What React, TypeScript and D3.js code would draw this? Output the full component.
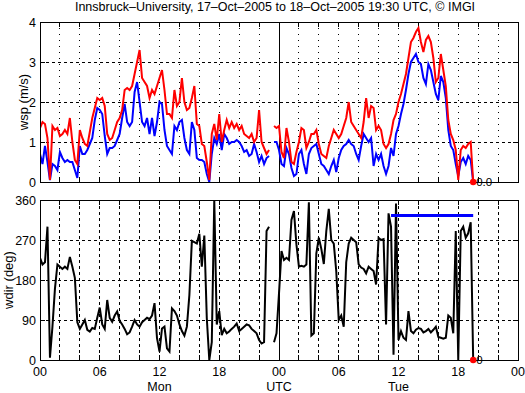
import React from 'react';
import * as d3 from 'd3';

const TITLE = 'Innsbruck–University, 17–Oct–2005 to 18–Oct–2005 19:30 UTC, © IMGI';

// 15-minute samples, starting 17-Oct-2005 00:00 UTC (null = missing)
const STEP_H = 0.25;

const gust = [
  1.35, 1.5, 1.45, 1.1, 0.05, 1.4, 1.3, 1.35, 1.15, 1.2,
  1.3, 1.2, 1.6, 1.0, 0.55, 0.45, 1.3, 1.1, 0.95, 0.9,
  1.25, 1.6, 1.85, 2.1, 2.05, 2.1, 1.9, 1.2, 1.05, 1.1,
  1.3, 1.5, 1.6, 1.8, 2.3, 2.35, 2.3, 2.4, 2.7, 3.0,
  3.3, 2.6, 2.5, 2.4, 2.1, 2.3, 2.2, 2.4, 2.6, 2.8,
  2.3, 1.7, 1.7, 1.6, 2.3, 1.9, 2.0, 2.6, 2.0, 1.8,
  1.85, 2.1, 2.4, 1.45, 1.4, 0.95, 0.9, 0.5, 0.05, 1.2,
  1.45, 1.05, 1.7, 1.0, 1.3, 1.55, 1.35, 1.5, 1.35, 1.45,
  1.3, 1.4, 1.2, 1.15, 1.1, 1.2, 1.0, 1.1, 1.8, 1.0,
  0.85, 0.7, 0.8, null, 1.4, 1.35, 1.4, 0.75, 0.6, 1.35,
  1.0, 0.5, 0.45, 0.75, 1.0, 1.35, 1.3, 0.85, 1.0, 1.2,
  1.2, 1.3, 0.95, 0.7, 0.65, 0.6, 0.9, 1.1, 1.3, 1.2,
  1.1, 1.2, 1.4, 1.6, 2.0, 1.5, 1.4, 1.3, 1.2, 1.1,
  1.5, 2.1, 1.6, 1.9, 1.85, 1.3, 1.4, 1.3, 0.95, 0.85,
  0.95, 1.2, 1.55, 1.7, 2.0, 2.2, 2.45, 2.7, 3.1, 3.5,
  3.6, 3.75, 3.85, 3.5, 3.25, 3.55, 3.65, 3.5, 3.1, 2.5,
  2.6, 3.2, 2.8, 2.4, 1.55, 1.2, 1.05, 0.8, 0.05, 0.8,
  0.9, 0.85, 0.95, 1.0, 0.0,
];

const mean = [
  0.7, 0.45, 0.9, 0.5, 0.05, 0.45, 0.4, 0.3, 0.75, 0.6,
  0.5, 0.55, 0.5, 0.5, 0.3, 0.1, 0.9, 0.7, 0.7, 0.8,
  0.95, 1.1, 1.55, 1.85, 1.8, 1.7, 1.15, 0.7, 0.85, 0.85,
  0.9, 1.05, 1.2, 1.6, 1.95, 1.5, 1.4, 1.5, 2.25, 2.5,
  2.0, 1.5, 1.4, 1.6, 1.2, 1.6, 1.15, 1.5, 2.0, 1.95,
  1.3, 0.9, 0.8, 0.7, 1.4, 1.3, 1.5, 1.55, 1.1, 0.8,
  0.7, 1.5, 1.3, 0.6, 0.55, 0.55, 0.5, 0.2, 0.0, 0.7,
  1.1, 0.95, 1.2, 0.8, 1.2, 1.1, 0.95, 1.0, 1.0, 1.05,
  1.0, 0.9, 0.75, 0.8, 0.65, 0.7, 0.95, 0.75, 0.5, 0.65,
  0.45, 0.6, 0.65, null, 1.0, 1.0, 0.8, 0.45, 0.4, 0.85,
  0.7, 0.35, 0.15, 0.2, 0.7, 0.8, 0.45, 0.2, 0.7, 0.85,
  0.9, 0.95, 0.7, 0.45, 0.4, 0.3, 0.2, 0.4, 0.55, 0.25,
  0.6, 0.8, 0.9, 0.95, 1.05, 0.95, 0.9, 0.7, 0.55, 0.9,
  1.2, 1.1, 1.0, 1.1, 0.4, 0.7, 0.55, 0.7, 0.4, 0.2,
  0.4, 0.85, 0.65, 1.2, 1.4, 1.7, 1.95, 2.3, 2.7, 3.0,
  3.1, 3.2, 3.0, 2.95, 2.6, 2.45, 2.95, 2.8, 2.5, 2.2,
  2.05, 2.65, 2.5, 2.1, 1.3, 0.9, 0.8, 0.45, 0.15, 0.5,
  0.6, 0.45, 0.65, 0.55, 0.0,
];

const wdir = [
  230, 215, 220, 300, 5, 75, 160, 215, 210, 205,
  210, 205, 232, 210, 185, 85, 70, 80, 90, 68,
  64, 72, 70, 95, 118, 80, 70, 135, 95, 86,
  100, 109, 88, 80, 70, 58, 62, 75, 90, 80,
  75, 85, 90, 95, 92, 100, 128, 49, 19, 71,
  75, 26, 19, 116, 110, 100, 80, 65, 55, 75,
  146, 268, 265, 262, 284, 210, 280, 94, 0, 40,
  360, 80, 110, 56, 70, 60, 64, 70, 75, 82,
  65, 70, 75, 80, 78, 70, 65, 60, 45, 37,
  40, 290, 300, null, 40, 60, 150, 245, 225, 230,
  225, 315, 335, 260, 210, 212, 210, 215, 355, 55,
  60, 240, 275, 250, 216, 290, 340, 270, 262, 200,
  90, 100, 75, 220, 262, 275, 270, 265, 215, 208,
  205, 195, 210, 205, 200, 170, 275, 270, 272, 80,
  330, 300, 12, 352, 45, 65, 50, 45, 110, 65,
  60, 68, 72, 70, 62, 65, 70, 62, 68, 75,
  52, 50, 48, 50, 100, 95, 60, 290, 0, 290,
  300, 275, 285, 310, 0,
];

const hourTicks = [0, 6, 12, 18, 24, 30, 36, 42, 48];
const hourLabels = ['00', '06', '12', '18', '00', '06', '12', '18', '00'];
const dayLabels = ['Mon', 'UTC', 'Tue'];
const dayHours = [12, 24, 36];
const wspTicks = [0, 1, 2, 3, 4];
const wdirTicks = [0, 90, 180, 270, 360];
const refDirHours = [35.25, 43.5];
const refDirValue = 325;
const lastWspLabel = '0.0';
const lastDirLabel = '0';

const W = 525;
const H = 393;
const FONT = 'Liberation Sans, Arial, Helvetica, sans-serif';

type Pt = { h: number; v: number | null };
const toPts = (arr: (number | null)[]): Pt[] => arr.map((v, i) => ({ h: i * STEP_H, v }));

function Panel({ top, bottom, yDomain, yTicks, yLabel, yLabelX, xScale, showXLabels, vDash, hDash, children }: any) {
  const y = d3.scaleLinear().domain(yDomain).range([bottom, top]);
  const [x0, x1] = xScale.range();
  const minor = d3.range(0, 49, 2);
  const id = `clip-${top}`;
  return (
    <g>
      <defs>
        <clipPath id={id}>
          <rect x={x0} y={top - 2} width={x1 - x0} height={bottom - top + 4} />
        </clipPath>
      </defs>
      {/* grid */}
      {minor.filter(h => h !== 0 && h !== 48 && h !== 24).map(h => (
        <line key={'gv' + h} x1={xScale(h)} x2={xScale(h)} y1={top} y2={bottom}
          stroke="#000" strokeWidth={1} strokeDasharray={vDash} shapeRendering="crispEdges" />
      ))}
      {yTicks.slice(1, -1).map((t: number) => (
        <line key={'gh' + t} x1={x0} x2={x1} y1={y(t)} y2={y(t)}
          stroke="#000" strokeWidth={1} strokeDasharray={hDash} shapeRendering="crispEdges" />
      ))}
      {/* midnight */}
      <line x1={xScale(24)} x2={xScale(24)} y1={top} y2={bottom} stroke="#000" strokeWidth={1} shapeRendering="crispEdges" />
      {/* ticks */}
      {minor.map(h => (
        <g key={'t' + h}>
          <line x1={xScale(h)} x2={xScale(h)} y1={top} y2={top + 5} stroke="#000" shapeRendering="crispEdges" />
          <line x1={xScale(h)} x2={xScale(h)} y1={bottom} y2={bottom - 5} stroke="#000" shapeRendering="crispEdges" />
        </g>
      ))}
      {yTicks.map((t: number) => (
        <g key={'yt' + t}>
          <line x1={x0} x2={x0 + 5} y1={y(t)} y2={y(t)} stroke="#000" shapeRendering="crispEdges" />
          <line x1={x1} x2={x1 - 5} y1={y(t)} y2={y(t)} stroke="#000" shapeRendering="crispEdges" />
          <text x={x0 - 4} y={y(t)} dy="0.36em" textAnchor="end" fontSize={12.5}>{t}</text>
        </g>
      ))}
      <g clipPath={`url(#${id})`}>{children(y)}</g>
      <rect x={x0} y={top} width={x1 - x0} height={bottom - top} fill="none" stroke="#000" strokeWidth={1} shapeRendering="crispEdges" />
      <text transform={`translate(${yLabelX},${(top + bottom) / 2}) rotate(-90)`} textAnchor="middle" dy="0.35em" fontSize={13}>{yLabel}</text>
      {showXLabels && hourTicks.map((h, i) => (
        <text key={'xl' + h} x={xScale(h)} y={bottom + 16} textAnchor="middle" fontSize={12.5}>{hourLabels[i]}</text>
      ))}
      {showXLabels && dayHours.map((h, i) => (
        <text key={'dl' + h} x={xScale(h)} y={bottom + 31} textAnchor="middle" fontSize={12.5}>{dayLabels[i]}</text>
      ))}
    </g>
  );
}

export default function App() {
  const x = d3.scaleLinear().domain([0, 48]).range([40, 518]);
  const gustPts = toPts(gust);
  const meanPts = toPts(mean);
  const dirPts = toPts(wdir);
  const lastH = (wdir.length - 1) * STEP_H;

  const mkLine = (y: any) => d3.line<Pt>()
    .defined(d => d.v !== null)
    .x(d => x(d.h))
    .y(d => y(d.v as number));

  return (
    <svg width={W} height={H} style={{ position: 'absolute', left: 0, top: 0, background: '#fff' }} fontFamily={FONT}>
      <rect width={W} height={H} fill="#fff" />
      <text x={275} y={11} textAnchor="middle" fontSize={12.5}>{TITLE}</text>

      <Panel top={22} bottom={182} yDomain={[0, 4]} yTicks={wspTicks} yLabel="wsp (m/s)" yLabelX={23}
        xScale={x} showXLabels={false} vDash="1,5" hDash="3,3">
        {(y: any) => (
          <g>
            <path d={mkLine(y)(meanPts) || ''} fill="none" stroke="#0000ff" strokeWidth={2} strokeLinejoin="miter" />
            <path d={mkLine(y)(gustPts) || ''} fill="none" stroke="#ff0000" strokeWidth={2} strokeLinejoin="miter" />
          </g>
        )}
      </Panel>
      <circle cx={x(lastH)} cy={182} r={3.2} fill="#ff0000" />
      <text x={x(lastH) + 3} y={186} fontSize={11.5}>{lastWspLabel}</text>

      <Panel top={200} bottom={360} yDomain={[0, 360]} yTicks={wdirTicks} yLabel="wdir (deg)" yLabelX={8}
        xScale={x} showXLabels={true} vDash="3,3" hDash="3,3">
        {(y: any) => (
          <g>
            <path d={mkLine(y)(dirPts) || ''} fill="none" stroke="#000" strokeWidth={2} strokeLinejoin="miter" />
            <line x1={x(refDirHours[0])} x2={x(refDirHours[1])} y1={y(refDirValue)} y2={y(refDirValue)}
              stroke="#0000ff" strokeWidth={3} />
          </g>
        )}
      </Panel>
      <circle cx={x(lastH)} cy={360} r={3.2} fill="#ff0000" />
      <text x={x(lastH) + 3} y={364} fontSize={11.5}>{lastDirLabel}</text>
    </svg>
  );
}
